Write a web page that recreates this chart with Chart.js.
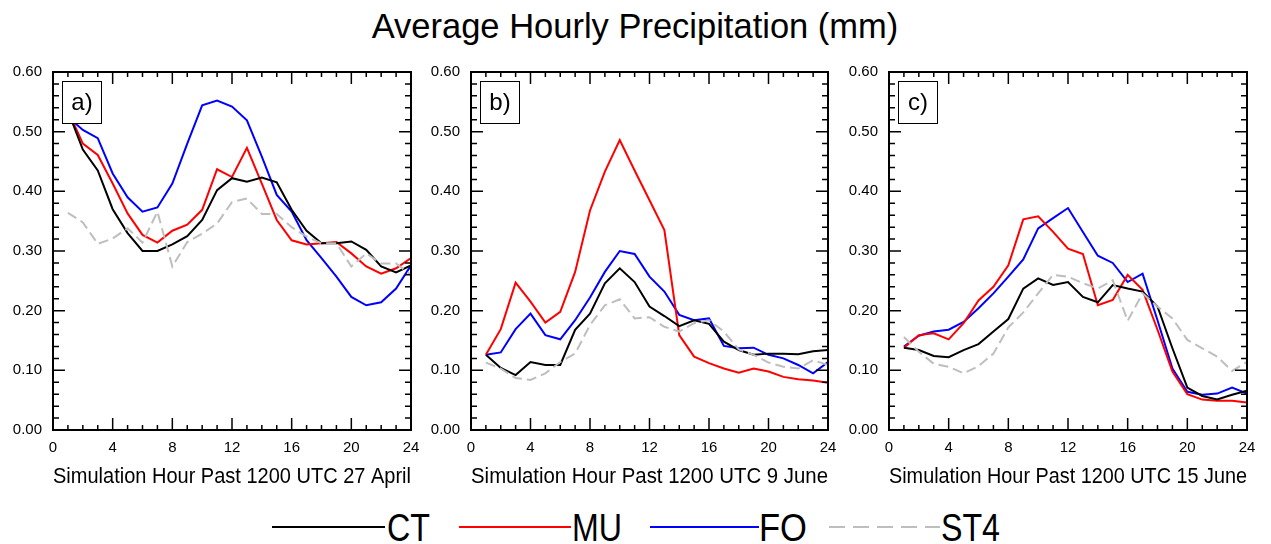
<!DOCTYPE html>
<html>
<head>
<meta charset="utf-8">
<script src="https://cdn.jsdelivr.net/npm/chart.js@4.4.0/dist/chart.umd.min.js"></script>
<style>
  html, body { margin: 0; padding: 0; background: #fff; }
  #wrap { position: relative; width: 1271px; height: 544px; overflow: hidden; font-family: 'Liberation Sans', Arial, sans-serif; }
  .panel { position: absolute; top: 60px; }
  #overlay { position: absolute; left: 0; top: 0; }
</style>
</head>
<body>
<div id="wrap">
  <svg id="overlay" width="1271" height="544" font-family="'Liberation Sans', Arial, sans-serif">
    <text x="635" y="38" text-anchor="middle" font-size="34.5">Average Hourly Precipitation (mm)</text>
    <g font-size="38">
      <line x1="272" y1="527" x2="385" y2="527" stroke="#000" stroke-width="2"/>
      <text x="387" y="541" textLength="43" lengthAdjust="spacingAndGlyphs">CT</text>
      <line x1="459" y1="527" x2="571" y2="527" stroke="#ff0000" stroke-width="2"/>
      <text x="572" y="541" textLength="50" lengthAdjust="spacingAndGlyphs">MU</text>
      <line x1="650" y1="527" x2="759" y2="527" stroke="#0000ff" stroke-width="2"/>
      <text x="759" y="541" textLength="48" lengthAdjust="spacingAndGlyphs">FO</text>
      <line x1="829" y1="527" x2="940" y2="527" stroke="#bebebe" stroke-width="2" stroke-dasharray="16,8"/>
      <text x="941" y="541" textLength="59" lengthAdjust="spacingAndGlyphs">ST4</text>
    </g>
  </svg>
  <div class="panel" style="left:0px"><canvas id="chartA" width="430" height="440"></canvas></div>
  <div class="panel" style="left:418px"><canvas id="chartB" width="430" height="440"></canvas></div>
  <div class="panel" style="left:836px"><canvas id="chartC" width="430" height="440"></canvas></div>
</div>
<script>
// simulation hours
const hours = [1, 2, 3, 4, 5, 6, 7, 8, 9, 10, 11, 12, 13, 14, 15, 16, 17, 18, 19, 20, 21, 22, 23, 24];
const yTicks = [0, 0.1, 0.2, 0.3, 0.4, 0.5, 0.6];

// a) 27 April
const ctA  = [0.535, 0.47, 0.435, 0.37, 0.33, 0.30, 0.30, 0.311, 0.325, 0.352, 0.402, 0.422, 0.416, 0.423, 0.415, 0.369, 0.334, 0.313, 0.313, 0.316, 0.302, 0.274, 0.264, 0.276];
const muA  = [0.535, 0.48, 0.461, 0.413, 0.363, 0.327, 0.314, 0.334, 0.344, 0.369, 0.437, 0.424, 0.473, 0.413, 0.352, 0.318, 0.311, 0.313, 0.315, 0.296, 0.274, 0.262, 0.271, 0.288];
const foA  = [0.525, 0.503, 0.489, 0.43, 0.39, 0.366, 0.373, 0.413, 0.48, 0.544, 0.552, 0.542, 0.519, 0.458, 0.394, 0.366, 0.318, 0.288, 0.257, 0.223, 0.209, 0.214, 0.237, 0.276];
const st4A = [0.364, 0.348, 0.312, 0.321, 0.338, 0.314, 0.366, 0.274, 0.315, 0.329, 0.346, 0.382, 0.388, 0.362, 0.362, 0.34, 0.324, 0.313, 0.313, 0.274, 0.296, 0.279, 0.279, 0.26];

// b) 9 June
const ctB  = [0.126, 0.104, 0.092, 0.114, 0.109, 0.109, 0.168, 0.195, 0.246, 0.271, 0.248, 0.207, 0.191, 0.174, 0.184, 0.178, 0.148, 0.134, 0.126, 0.128, 0.128, 0.127, 0.132, 0.134];
const muB  = [0.126, 0.169, 0.247, 0.215, 0.18, 0.198, 0.265, 0.368, 0.433, 0.486, 0.435, 0.385, 0.335, 0.159, 0.123, 0.112, 0.103, 0.096, 0.103, 0.098, 0.089, 0.085, 0.083, 0.079];
const foB  = [0.126, 0.13, 0.169, 0.195, 0.159, 0.152, 0.184, 0.222, 0.265, 0.30, 0.295, 0.257, 0.232, 0.193, 0.184, 0.187, 0.141, 0.137, 0.138, 0.126, 0.12, 0.109, 0.095, 0.114];
const st4B = [0.113, 0.103, 0.087, 0.084, 0.095, 0.114, 0.128, 0.176, 0.209, 0.219, 0.187, 0.189, 0.173, 0.165, 0.179, 0.184, 0.165, 0.135, 0.126, 0.113, 0.106, 0.103, 0.117, 0.109];

// c) 15 June
const ctC  = [0.138, 0.134, 0.124, 0.122, 0.134, 0.144, 0.165, 0.186, 0.237, 0.254, 0.243, 0.248, 0.223, 0.214, 0.243, 0.237, 0.232, 0.207, 0.137, 0.071, 0.057, 0.051, 0.059, 0.066];
const muC  = [0.138, 0.159, 0.162, 0.152, 0.179, 0.217, 0.24, 0.276, 0.353, 0.358, 0.332, 0.304, 0.295, 0.209, 0.218, 0.26, 0.235, 0.168, 0.098, 0.06, 0.051, 0.049, 0.049, 0.046];
const foC  = [0.14, 0.158, 0.165, 0.168, 0.181, 0.204, 0.229, 0.257, 0.286, 0.338, 0.355, 0.372, 0.332, 0.292, 0.28, 0.248, 0.262, 0.184, 0.103, 0.064, 0.059, 0.061, 0.071, 0.061];
const st4C = [0.156, 0.131, 0.111, 0.106, 0.095, 0.107, 0.128, 0.172, 0.197, 0.229, 0.26, 0.257, 0.246, 0.237, 0.251, 0.183, 0.229, 0.207, 0.187, 0.151, 0.137, 0.123, 0.099, 0.114];

const FONT = "'Liberation Sans', Arial, sans-serif";

function pts(vals) {
    return vals.map(function (v, i) { return { x: hours[i], y: v }; });
}

// frame with inward ticks on all four sides, plus the panel letter box
const frameTicks = {
    id: 'frameTicks',
    afterDatasetsDraw(chart, args, opts) {
        const ctx = chart.ctx;
        const a = chart.chartArea;
        const x = chart.scales.x;
        const y = chart.scales.y;
        ctx.save();

        ctx.fillStyle = '#fff';
        ctx.fillRect(a.left + 9, a.top + 9, 39, 42);
        ctx.strokeStyle = '#000';
        ctx.lineWidth = 1;
        ctx.strokeRect(a.left + 9.5, a.top + 9.5, 39, 42);
        ctx.fillStyle = '#000';
        ctx.font = '24px ' + FONT;
        ctx.textAlign = 'center';
        ctx.textBaseline = 'middle';
        ctx.fillText(opts.label, a.left + 29, a.top + 31);

        ctx.lineWidth = 1.5;
        ctx.beginPath();
        for (let h = 0; h <= 24; h++) {
            const px = x.getPixelForValue(h);
            const len = h % 4 === 0 ? 12 : 5;
            ctx.moveTo(px, a.bottom); ctx.lineTo(px, a.bottom - len);
            ctx.moveTo(px, a.top); ctx.lineTo(px, a.top + len);
        }
        for (let k = 0; k <= 30; k++) {
            const py = y.getPixelForValue(k * 0.02);
            const len = k % 5 === 0 ? 12 : 6;
            ctx.moveTo(a.left, py); ctx.lineTo(a.left + len, py);
            ctx.moveTo(a.right, py); ctx.lineTo(a.right - len, py);
        }
        ctx.stroke();

        ctx.lineWidth = 2;
        ctx.strokeRect(a.left, a.top, a.width, a.height);
        ctx.restore();
    }
};

function makePanel(id, label, title, rightPad, ct, mu, fo, st4) {
    return new Chart(document.getElementById(id).getContext('2d'), {
        type: 'line',
        data: {
            datasets: [
                { label: 'ST4', data: pts(st4), borderColor: '#bebebe', borderWidth: 2, borderDash: [10, 5] },
                { label: 'CT', data: pts(ct), borderColor: '#000000', borderWidth: 2 },
                { label: 'MU', data: pts(mu), borderColor: '#ff0000', borderWidth: 2 },
                { label: 'FO', data: pts(fo), borderColor: '#0000ff', borderWidth: 2 }
            ]
        },
        options: {
            responsive: false,
            animation: false,
            devicePixelRatio: 1,
            layout: { padding: { top: 12, right: rightPad, bottom: 0, left: 0 } },
            elements: { point: { radius: 0 }, line: { tension: 0 } },
            plugins: {
                legend: { display: false },
                tooltip: { enabled: false },
                frameTicks: { label: label }
            },
            scales: {
                x: {
                    type: 'linear',
                    min: 0,
                    max: 24,
                    grid: { display: false, drawTicks: false },
                    border: { display: false },
                    ticks: { stepSize: 4, padding: 9, color: '#000', font: { family: FONT, size: 15 } },
                    title: { display: true, text: title, color: '#000', font: { family: FONT, size: 21.2 }, padding: { top: 0, bottom: 10 } },
                    afterFit: function (s) { s.height = 70; s.paddingLeft = 0; s.paddingRight = 0; }
                },
                y: {
                    min: 0,
                    max: 0.6,
                    grid: { display: false, drawTicks: false },
                    border: { display: false },
                    afterBuildTicks: function (s) { s.ticks = yTicks.map(function (v) { return { value: v }; }); },
                    ticks: {
                        padding: 11,
                        color: '#000',
                        font: { family: FONT, size: 15 },
                        callback: function (v) { return Number(v).toFixed(2); }
                    },
                    afterFit: function (s) { s.width = 53; s.paddingTop = 0; s.paddingBottom = 0; }
                }
            }
        },
        plugins: [frameTicks]
    });
}

makePanel('chartA', 'a)', 'Simulation Hour Past 1200 UTC 27 April', 19, ctA, muA, foA, st4A);
makePanel('chartB', 'b)', 'Simulation Hour Past 1200 UTC 9 June', 20, ctB, muB, foB, st4B);
makePanel('chartC', 'c)', 'Simulation Hour Past 1200 UTC 15 June', 19, ctC, muC, foC, st4C);
</script>
</body>
</html>
